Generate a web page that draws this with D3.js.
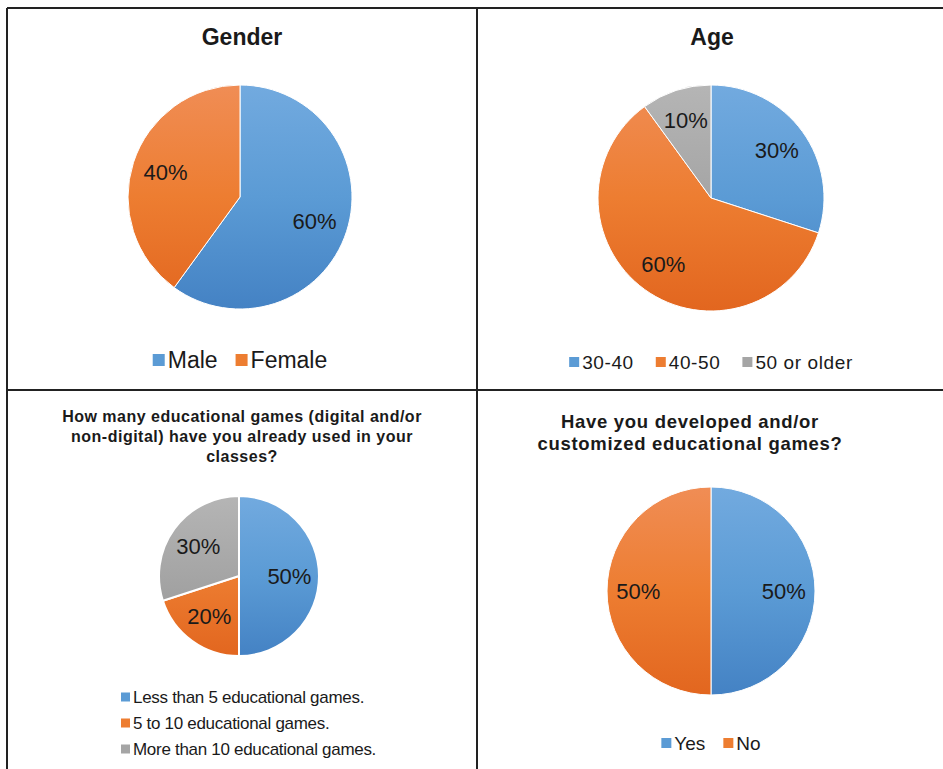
<!DOCTYPE html>
<html>
<head>
<meta charset="utf-8">
<script src="https://cdn.jsdelivr.net/npm/d3@7"></script>
<style>
  body { margin: 0; background: #fff; }
  text { font-family: "Liberation Sans", Arial, sans-serif; fill: #1a1a1a; }
</style>
</head>
<body>
<div id="chart"></div>
<script>
// survey results
const genderLabels = ["Male", "Female"];
const genderValues = [60, 40];

const ageLabels = ["30-40", "40-50", "50 or older"];
const ageValues = [30, 60, 10];

const gamesUsedLabels = ["Less than 5 educational games.", "5 to 10 educational games.", "More than 10 educational games."];
const gamesUsedValues = [50, 20, 30];

const developedLabels = ["Yes", "No"];
const developedValues = [50, 50];

const sliceColors = ["#5b9bd5", "#ed7d31", "#a5a5a5"];
const lightColors = ["#72aadf", "#f08d55", "#b5b5b5"];
const darkColors = ["#4482c4", "#e2661f", "#959595"];

const width = 943, height = 769;

const svg = d3.select("#chart").append("svg")
  .attr("width", width)
  .attr("height", height);

const defs = svg.append("defs");

// grid lines of the table
const grid = svg.append("g").attr("stroke", "#222").attr("stroke-width", 2);
grid.append("line").attr("x1", 7).attr("y1", 8).attr("x2", width).attr("y2", 8);
grid.append("line").attr("x1", 7).attr("y1", 8).attr("x2", 7).attr("y2", height);
grid.append("line").attr("x1", 477).attr("y1", 8).attr("x2", 477).attr("y2", height);
grid.append("line").attr("x1", 7).attr("y1", 390).attr("x2", width).attr("y2", 390);

const panels = [
  {id: "gender", labels: genderLabels, values: genderValues,
   title: ["Gender"], titleX: 242, titleY: 45, titleSize: 23, titleSpacing: 0,
   cx: 240, cy: 197, r: 112, labelPos: 0.7, labelSize: 22, stroke: 1,
   legend: "row", legendY: 360, legendSize: 23, legendGap: 18, legendSpacing: 0},
  {id: "age", labels: ageLabels, values: ageValues,
   title: ["Age"], titleX: 712, titleY: 45, titleSize: 23, titleSpacing: 0,
   cx: 711, cy: 198, r: 113, labelPos: 0.72, labelSize: 22, stroke: 1,
   legend: "row", legendY: 362, legendSize: 19, legendGap: 22, legendSpacing: 0.6},
  {id: "used", labels: gamesUsedLabels, values: gamesUsedValues,
   title: ["How many educational games (digital and/or", "non-digital) have you already used in your", "classes?"],
   titleX: 242, titleY: 422, titleSize: 16, titleLead: 20, titleSpacing: 0.5,
   cx: 239, cy: 576, r: 80, labelPos: 0.63, labelSize: 22, stroke: 2,
   legend: "column", legendX: 121, legendY: 697, legendSize: 17, legendLead: 26, legendSpacing: -0.3},
  {id: "developed", labels: developedLabels, values: developedValues,
   title: ["Have you developed and/or", "customized educational games?"],
   titleX: 690, titleY: 428, titleSize: 18.5, titleLead: 22, titleSpacing: 0.7,
   cx: 711, cy: 591, r: 104, labelPos: 0.7, labelSize: 22, stroke: 1,
   legend: "row", legendY: 743, legendSize: 19, legendGap: 18, legendSpacing: 0}
];

const pie = d3.pie().sort(null).value(d => d);

panels.forEach(p => {
  const g = svg.append("g").attr("transform", `translate(${p.cx},${p.cy})`);

  // vertical shading like the office charts
  sliceColors.forEach((c, i) => {
    const grad = defs.append("linearGradient")
      .attr("id", `${p.id}-grad-${i}`)
      .attr("gradientUnits", "userSpaceOnUse")
      .attr("x1", 0).attr("y1", -p.r).attr("x2", 0).attr("y2", p.r);
    grad.append("stop").attr("offset", "0%").attr("stop-color", lightColors[i]);
    grad.append("stop").attr("offset", "50%").attr("stop-color", c);
    grad.append("stop").attr("offset", "100%").attr("stop-color", darkColors[i]);
  });

  const arc = d3.arc().innerRadius(0).outerRadius(p.r);
  const labelArc = d3.arc().innerRadius(p.r * p.labelPos).outerRadius(p.r * p.labelPos);
  const arcs = pie(p.values);

  g.selectAll("path")
    .data(arcs)
    .join("path")
    .attr("d", arc)
    .attr("fill", (d, i) => `url(#${p.id}-grad-${i})`)
    .attr("stroke", "#fff")
    .attr("stroke-width", p.stroke);

  g.selectAll("text.pct")
    .data(arcs)
    .join("text")
    .attr("class", "pct")
    .attr("transform", d => `translate(${labelArc.centroid(d)})`)
    .attr("text-anchor", "middle")
    .attr("dy", "0.35em")
    .style("font-size", p.labelSize + "px")
    .text(d => d.data + "%");

  // title
  const t = svg.append("text")
    .attr("text-anchor", "middle")
    .style("font-weight", "bold")
    .style("font-size", p.titleSize + "px")
    .style("letter-spacing", p.titleSpacing + "px");
  p.title.forEach((line, i) => {
    t.append("tspan")
      .attr("x", p.titleX)
      .attr("y", p.titleY + i * (p.titleLead || 0))
      .text(line);
  });

  // legend
  const sq = Math.round(p.legendSize * 0.5);
  if (p.legend === "row") {
    const lg = svg.append("g");
    let x = 0;
    p.labels.forEach((lab, i) => {
      const item = lg.append("g").attr("transform", `translate(${x},0)`);
      item.append("rect")
        .attr("x", 0).attr("y", -sq - 1)
        .attr("width", sq).attr("height", sq)
        .attr("fill", sliceColors[i]);
      const txt = item.append("text")
        .attr("x", sq + 3)
        .attr("dy", "0.35em")
        .attr("y", -sq / 2 - 1)
        .style("font-size", p.legendSize + "px")
        .style("letter-spacing", p.legendSpacing + "px")
        .text(lab);
      x += sq + 3 + txt.node().getComputedTextLength() + p.legendGap;
    });
    const w = x - p.legendGap;
    lg.attr("transform", `translate(${p.cx - w / 2},${p.legendY + sq / 2 + 1})`);
  } else {
    p.labels.forEach((lab, i) => {
      const y = p.legendY + i * p.legendLead;
      svg.append("rect")
        .attr("x", p.legendX).attr("y", y - sq / 2)
        .attr("width", sq).attr("height", sq)
        .attr("fill", sliceColors[i]);
      svg.append("text")
        .attr("x", p.legendX + sq + 3)
        .attr("y", y)
        .attr("dy", "0.35em")
        .style("font-size", p.legendSize + "px")
        .style("letter-spacing", p.legendSpacing + "px")
        .text(lab);
    });
  }
});
</script>
</body>
</html>
